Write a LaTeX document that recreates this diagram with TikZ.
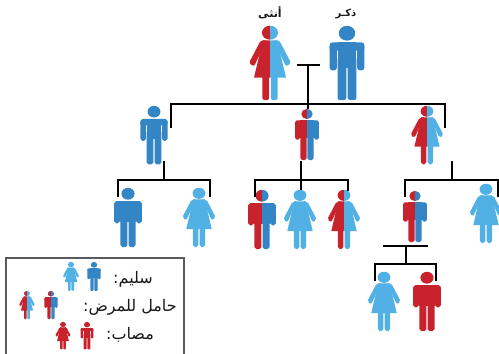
\documentclass[tikz,border=0pt]{standalone}
\usepackage{fontspec}
\newfontfamily\arabicfont[Script=Arabic]{DejaVu Sans}
\TeXXeTstate=1
\definecolor{darkBlue}{HTML}{3385C6}
\definecolor{lightBlue}{HTML}{51B0E4}
\definecolor{sickRed}{HTML}{C8232C}
\definecolor{boxGray}{HTML}{5A5A5A}
%% silhouettes: x centred on 0, head top at y=0, feet at y=72
\newcommand{\manShape}{%
  \fill (0,7) ellipse [x radius=8,y radius=7.2];
  \fill[rounded corners=\cornerSize] (-16.8,16) rectangle (16.8,24);
  \fill[rounded corners=\cornerSize] (-16.8,18) rectangle (-9.9,43);
  \fill[rounded corners=\cornerSize] (9.9,18) rectangle (16.8,43);
  \fill (-9.2,16) rectangle (9.2,41);
  \fill[rounded corners=\cornerSize] (-9.2,30) rectangle (-0.7,72);
  \fill[rounded corners=\cornerSize] (0.7,30) rectangle (9.2,72);
}
\newcommand{\womanShape}{%
  \fill (0,6.5) ellipse [x radius=7.8,y radius=6.8];
  \fill (-7,14) -- (7,14) -- (15.5,50) -- (-15.5,50) -- cycle;
  \fill[rounded corners=\cornerSize] (-2,14) -- (-9,14) -- (-20.5,36) -- (-15.5,39.5) -- (-8.5,24) -- (-2,24) -- cycle;
  \fill[rounded corners=\cornerSize] (2,14) -- (9,14) -- (20.5,36) -- (15.5,39.5) -- (8.5,24) -- (2,24) -- cycle;
  \fill[rounded corners=\cornerSize] (-7.5,44) rectangle (-0.8,72);
  \fill[rounded corners=\cornerSize] (0.8,44) rectangle (7.5,72);
}
\tikzset{
  pics/man/.style n args={3}{code={
    \pgfmathsetlengthmacro{\cornerSize}{#1*2.4pt}
    \begin{scope}[scale=#1]
      \begin{scope}[fill=#2]
        \clip (-25,-1) rectangle (0,80);
        \manShape
      \end{scope}
      \begin{scope}[fill=#3]
        \clip (0,-1) rectangle (25,80);
        \manShape
      \end{scope}
    \end{scope}
  }},
  pics/woman/.style n args={3}{code={
    \pgfmathsetlengthmacro{\cornerSize}{#1*2.4pt}
    \begin{scope}[scale=#1]
      \begin{scope}[fill=#2]
        \clip (-25,-1) rectangle (0,80);
        \womanShape
      \end{scope}
      \begin{scope}[fill=#3]
        \clip (0,-1) rectangle (25,80);
        \womanShape
      \end{scope}
    \end{scope}
  }},
  treeLine/.style={line width=2pt},
  arabicLabel/.style={font=\arabicfont\fontsize{#1}{#1}\selectfont,text=black!90,inner sep=0pt}
}
\begin{document}
\begin{tikzpicture}[x=1pt,y=-1pt]
\useasboundingbox (0,0) rectangle (499,354);
%% men
\foreach \personname/\x/\y/\size/\leftcol/\rightcol in {
  father/347/26/1.03/darkBlue/darkBlue,
  sonA/154/106/0.81/darkBlue/darkBlue,
  sonB/307/109/0.71/sickRed/darkBlue,
  kidA/128/188/0.82/darkBlue/darkBlue,
  kidC/262/190/0.82/sickRed/darkBlue,
  kidF/415/191/0.71/sickRed/darkBlue,
  babyB/427/272/0.82/sickRed/sickRed,
  keyHealthyM/94/262/0.40/darkBlue/darkBlue,
  keyCarrierM/51/291/0.39/sickRed/darkBlue,
  keySickM/87/322/0.38/sickRed/sickRed}
{
  \pic (\personname) at (\x,\y) {man={\size}{\leftcol}{\rightcol}};
}
%% women
\foreach \personname/\x/\y/\size/\leftcol/\rightcol in {
  mother/270/26/1.03/sickRed/lightBlue,
  daughter/427/106/0.81/sickRed/lightBlue,
  kidB/199/188/0.82/lightBlue/lightBlue,
  kidD/300/190/0.82/lightBlue/lightBlue,
  kidE/344/190/0.82/sickRed/lightBlue,
  kidG/486/184/0.82/lightBlue/lightBlue,
  babyA/384/272/0.82/lightBlue/lightBlue,
  keyHealthyW/71/262/0.40/lightBlue/lightBlue,
  keyCarrierW/27/291/0.39/sickRed/lightBlue,
  keySickW/63/322/0.38/sickRed/sickRed}
{
  \pic (\personname) at (\x,\y) {woman={\size}{\leftcol}{\rightcol}};
}
%% bracket points
\foreach \pointname/\x/\y in {
  topL/297/65, topM/308/65, topR/320/65, topD/308/109,
  genL/171/128, genM/308/104, genR/445/128,
  stemA/164/161, jointA/164/180, brAl/118/197, brAr/210/197,
  stemB/301/161, jointB/301/180, brBl/255/197, brBm/301/190, brBr/348/191,
  stemC/452/161, jointC/452/180, brCl/405/197, brCr/498/197,
  tieL/383/246, tieM/406/246, tieR/428/246, jointD/406/264, brDl/375/281, brDr/436/281,
  boxBL/6/354, boxTL/6/258, boxBR/184/354}
{
  \coordinate (\pointname) at (\x,\y);
}
%% family lines
\draw[treeLine] (topL) -- (topR);
\draw[treeLine] (topM) -- (topD);
\draw[treeLine] (genL) |- (genM) -| (genR);
\draw[treeLine] (stemA) -- (jointA);
\draw[treeLine] (brAl) |- (jointA) -| (brAr);
\draw[treeLine] (stemB) -- (brBm);
\draw[treeLine] (brBl) |- (jointB) -| (brBr);
\draw[treeLine] (stemC) -- (jointC);
\draw[treeLine] (brCl) |- (jointC) -| (brCr);
\draw[treeLine] (tieL) -- (tieR);
\draw[treeLine] (tieM) -- (jointD);
\draw[treeLine] (brDl) |- (jointD) -| (brDr);
%% key frame
\draw[boxGray,line width=1.2pt] (boxBL) -- (boxTL) -| (boxBR);
%% labels
\node[arabicLabel=11] (labelF) at (270,13) {\bfseries\beginR أنثى\endR};
\node[arabicLabel=10] (labelM) at (346,14) {\bfseries\beginR ذكـر\endR};
\node[arabicLabel=16] (keyHealthy) at (133,279) {\beginR سليم:\endR};
\node[arabicLabel=16] (keyCarrier) at (130,307) {\beginR حامل للمرض:\endR};
\node[arabicLabel=16] (keySick) at (130,335) {\beginR مصاب:\endR};
\end{tikzpicture}
\end{document}
